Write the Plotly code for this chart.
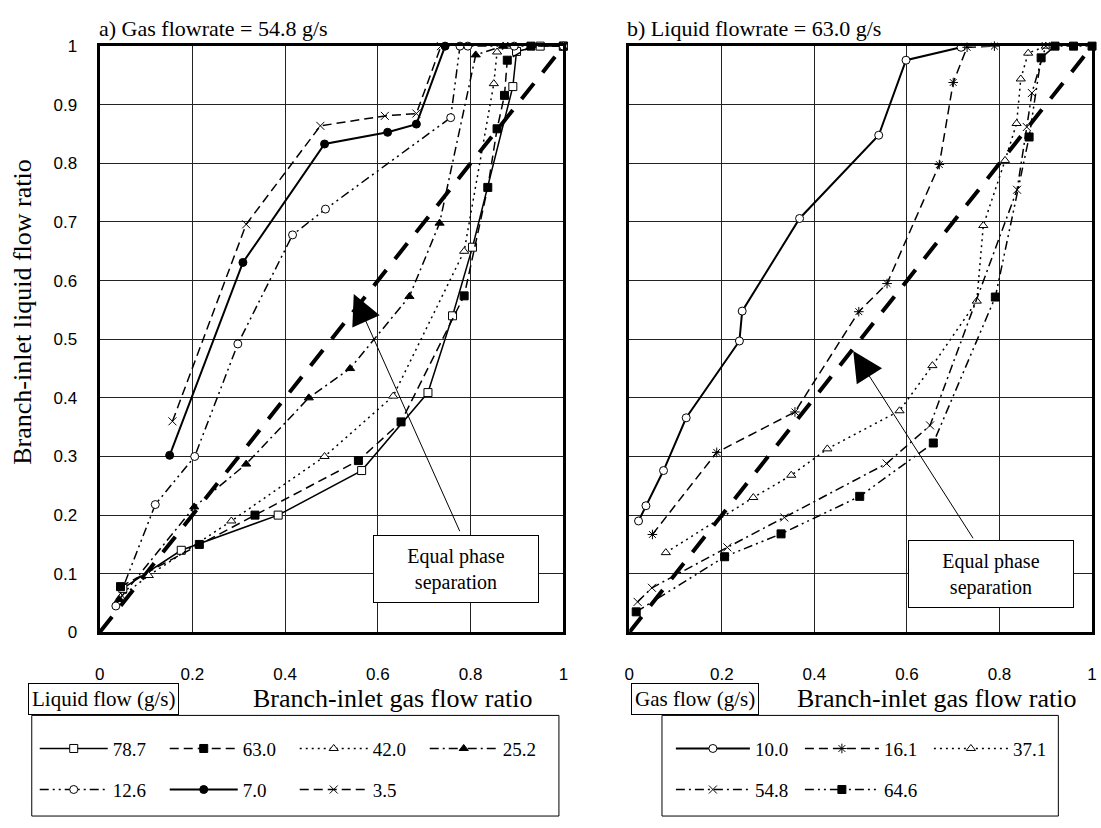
import plotly.graph_objects as go

W, H = 1101, 828

# ---------------- data: panel a) gas flowrate 54.8 g/s ----------------
a_names = ["78.7", "63.0", "42.0", "25.2", "12.6", "7.0", "3.5"]
a_x_787 = [0.05, 0.176, 0.385, 0.565, 0.708, 0.761, 0.804, 0.891, 0.899, 0.95, 1.0]
a_y_787 = [0.075, 0.14, 0.20, 0.276, 0.409, 0.54, 0.657, 0.931, 0.991, 1.0, 1.0]
a_x_630 = [0.045, 0.215, 0.335, 0.558, 0.65, 0.786, 0.837, 0.857, 0.873, 0.879, 0.93, 1.0]
a_y_630 = [0.078, 0.15, 0.20, 0.293, 0.359, 0.574, 0.759, 0.859, 0.916, 0.976, 1.0, 1.0]
a_x_420 = [0.045, 0.106, 0.284, 0.485, 0.633, 0.786, 0.85, 0.857, 0.88]
a_y_420 = [0.06, 0.097, 0.19, 0.30, 0.403, 0.65, 0.936, 0.99, 1.0]
a_x_252 = [0.042, 0.204, 0.316, 0.451, 0.54, 0.668, 0.733, 0.811, 0.87]
a_y_252 = [0.056, 0.214, 0.287, 0.40, 0.45, 0.573, 0.698, 0.985, 1.0]
a_x_126 = [0.035, 0.12, 0.205, 0.298, 0.416, 0.487, 0.757, 0.777, 0.794, 0.894, 1.0]
a_y_126 = [0.045, 0.218, 0.30, 0.492, 0.678, 0.722, 0.878, 1.0, 1.0, 1.0, 1.0]
a_x_070 = [0.151, 0.309, 0.485, 0.621, 0.683, 0.745]
a_y_070 = [0.302, 0.631, 0.833, 0.853, 0.867, 1.0]
a_x_035 = [0.157, 0.316, 0.476, 0.615, 0.683, 0.736]
a_y_035 = [0.36, 0.696, 0.864, 0.881, 0.885, 1.0]

# ---------------- data: panel b) liquid flowrate 63.0 g/s ----------------
b_names = ["10.0", "16.1", "37.1", "54.8", "64.6"]
b_x_100 = [0.02, 0.036, 0.074, 0.123, 0.238, 0.244, 0.368, 0.539, 0.598, 0.717]
b_y_100 = [0.19, 0.216, 0.276, 0.366, 0.497, 0.548, 0.706, 0.848, 0.976, 0.998]
b_x_161 = [0.05, 0.189, 0.358, 0.496, 0.557, 0.67, 0.70, 0.73, 0.789]
b_y_161 = [0.167, 0.307, 0.376, 0.547, 0.595, 0.798, 0.938, 0.998, 1.0]
b_x_371 = [0.079, 0.268, 0.35, 0.428, 0.584, 0.655, 0.751, 0.765, 0.812, 0.837, 0.846, 0.862, 0.90]
b_y_371 = [0.136, 0.23, 0.268, 0.313, 0.378, 0.455, 0.565, 0.694, 0.805, 0.868, 0.944, 0.988, 1.0]
b_x_548 = [0.018, 0.049, 0.212, 0.335, 0.556, 0.65, 0.838, 0.859, 0.87, 0.90]
b_y_548 = [0.052, 0.076, 0.145, 0.196, 0.288, 0.353, 0.755, 0.862, 0.92, 1.0]
b_x_646 = [0.015, 0.206, 0.328, 0.498, 0.657, 0.791, 0.864, 0.89, 0.92, 0.96, 1.0]
b_y_646 = [0.035, 0.129, 0.168, 0.232, 0.323, 0.572, 0.845, 0.98, 1.0, 1.0, 1.0]

eq_x = [0.0, 1.0]
eq_y = [0.0, 1.0]

x_ticks = [0, 0.2, 0.4, 0.6, 0.8, 1.0]
x_tick_text = ["0", "0.2", "0.4", "0.6", "0.8", "1"]
y_ticks = [0, 0.1, 0.2, 0.3, 0.4, 0.5, 0.6, 0.7, 0.8, 0.9, 1.0]
y_tick_text = ["0", "0.1", "0.2", "0.3", "0.4", "0.5", "0.6", "0.7", "0.8", "0.9", "1"]

# ---------------- helpers ----------------
def px(x):
    return x / W

def py(y):
    return 1 - y / H

SERIF = "Liberation Serif, Times New Roman, serif"
SANS = "Liberation Sans, Arial, sans-serif"

DASH = "9px,5px"
DOT = "2px,4px"
DASHDOT = "9px,4px,2px,4px"
DASHDOTDOT = "9px,4px,2px,4px,2px,4px"

fig = go.Figure()

def add(xs, ys, name, dash, width, symbol, fill, xa, ya, legend, msize=8):
    fig.add_trace(go.Scatter(
        x=xs, y=ys, name=name, mode="lines+markers",
        line=dict(color="black", width=width, dash=dash),
        marker=dict(symbol=symbol, size=msize, color=fill,
                    line=dict(color="black", width=1)),
        xaxis=xa, yaxis=ya, legend=legend, cliponaxis=False,
    ))

# equal phase separation lines
for xa, ya in (("x", "y"), ("x2", "y2")):
    fig.add_trace(go.Scatter(
        x=eq_x, y=eq_y, mode="lines", showlegend=False,
        line=dict(color="black", width=4, dash="20px,14px"),
        xaxis=xa, yaxis=ya, hoverinfo="skip",
    ))

# panel a
add(a_x_787, a_y_787, a_names[0], "solid", 1.5, "square", "white", "x", "y", "legend")
add(a_x_630, a_y_630, a_names[1], DASH, 1.5, "square", "black", "x", "y", "legend")
add(a_x_420, a_y_420, a_names[2], DOT, 1.5, "triangle-up", "white", "x", "y", "legend")
add(a_x_252, a_y_252, a_names[3], DASHDOT, 1.5, "triangle-up", "black", "x", "y", "legend")
add(a_x_126, a_y_126, a_names[4], DASHDOTDOT, 1.5, "circle", "white", "x", "y", "legend2")
add(a_x_070, a_y_070, a_names[5], "solid", 2, "circle", "black", "x", "y", "legend2")
add(a_x_035, a_y_035, a_names[6], DASH, 1.5, "x-thin-open", "black", "x", "y", "legend2")

# panel b
add(b_x_100, b_y_100, b_names[0], "solid", 2, "circle", "white", "x2", "y2", "legend3")
add(b_x_161, b_y_161, b_names[1], DASH, 1.5, "asterisk-open", "black", "x2", "y2", "legend3")
add(b_x_371, b_y_371, b_names[2], DOT, 1.5, "triangle-up", "white", "x2", "y2", "legend3")
add(b_x_548, b_y_548, b_names[3], DASHDOT, 1.5, "x-thin-open", "black", "x2", "y2", "legend4")
add(b_x_646, b_y_646, b_names[4], DASHDOTDOT, 1.5, "square", "black", "x2", "y2", "legend4")

ydom = [py(638), py(38)]
axis_common = dict(range=[0, 1], showgrid=True, gridcolor="#222", gridwidth=1,
                   zeroline=False, showline=True, mirror=True, linewidth=3,
                   linecolor="black", ticks="", fixedrange=True)

fig.update_layout(
    width=W, height=H, margin=dict(l=0, r=0, t=0, b=0),
    paper_bgcolor="white", plot_bgcolor="white",
    xaxis=dict(domain=[px(95.5), px(563.5)], anchor="y", tickvals=x_ticks,
               ticktext=x_tick_text, tickfont=dict(family=SANS, size=17, color="black"),
               ticklabelstandoff=24, **axis_common),
    yaxis=dict(domain=ydom, anchor="x", tickvals=y_ticks, ticktext=y_tick_text,
               tickfont=dict(family=SANS, size=17, color="black"),
               ticklabelstandoff=16, **axis_common),
    xaxis2=dict(domain=[px(630), px(1097)], anchor="y2", tickvals=x_ticks,
                ticktext=x_tick_text, tickfont=dict(family=SANS, size=17, color="black"),
                ticklabelstandoff=24, **axis_common),
    yaxis2=dict(domain=ydom, anchor="x2", tickvals=y_ticks, showticklabels=False,
                **axis_common),
    showlegend=True,
)

leg_common = dict(orientation="h", font=dict(family=SERIF, size=19, color="black"),
                  bgcolor="rgba(0,0,0,0)", borderwidth=0,
                  xanchor="left", yanchor="middle", itemclick=False, itemdoubleclick=False)
fig.update_layout(
    legend=dict(x=px(30), y=py(757), itemwidth=68, entrywidth=47, **leg_common),
    legend2=dict(x=px(30), y=py(799), itemwidth=68, entrywidth=47, **leg_common),
    legend3=dict(x=px(672), y=py(757), itemwidth=74, entrywidth=40, **leg_common),
    legend4=dict(x=px(672), y=py(799), itemwidth=74, entrywidth=40, **leg_common),
)

shapes = [
    dict(type="rect", xref="paper", yref="paper", x0=px(27), x1=px(559), y0=py(826), y1=py(723),
         line=dict(color="black", width=1)),
    dict(type="rect", xref="paper", yref="paper", x0=px(663), x1=px(1063), y0=py(826), y1=py(723),
         line=dict(color="black", width=1)),
]
fig.update_layout(shapes=shapes)

ann = []
ann.append(dict(text="a) Gas flowrate = 54.8 g/s", x=px(93), y=py(20), xref="paper", yref="paper",
                xanchor="left", yanchor="middle", showarrow=False,
                font=dict(family=SERIF, size=22, color="black")))
ann.append(dict(text="b) Liquid flowrate = 63.0 g/s", x=px(626), y=py(20), xref="paper", yref="paper",
                xanchor="left", yanchor="middle", showarrow=False,
                font=dict(family=SERIF, size=22, color="black")))
ann.append(dict(text="Branch-inlet liquid flow ratio", x=px(18), y=py(310), xref="paper", yref="paper",
                textangle=-90, xanchor="center", yanchor="middle", showarrow=False,
                font=dict(family=SERIF, size=26, color="black")))
for cx in (391, 940):
    ann.append(dict(text="Branch-inlet gas flow ratio", x=px(cx), y=py(706), xref="paper", yref="paper",
                    xanchor="center", yanchor="middle", showarrow=False,
                    font=dict(family=SERIF, size=26, color="black")))
ann.append(dict(text="Liquid flow (g/s)", x=px(23), y=py(706), xref="paper", yref="paper",
                xanchor="left", yanchor="middle", showarrow=False, bordercolor="black",
                borderwidth=1, borderpad=3, font=dict(family=SERIF, size=21, color="black")))
ann.append(dict(text="Gas flow (g/s)", x=px(632), y=py(706), xref="paper", yref="paper",
                xanchor="left", yanchor="middle", showarrow=False, bordercolor="black",
                borderwidth=1, borderpad=3, font=dict(family=SERIF, size=21, color="black")))

# Equal phase separation boxes and arrows
for xa, ya, bx, by, hx, hy, tx, ty in (("x", "y", 0.768, 0.108, 0.548, 0.577, 0.778, 0.17),
                                        ("x2", "y2", 0.782, 0.10, 0.484, 0.48, 0.745, 0.158)):
    ann.append(dict(text="Equal phase<br>separation", x=bx, y=by, xref=xa, yref=ya,
                    showarrow=False, bordercolor="black", borderwidth=1, borderpad=3,
                    width=158, height=60, bgcolor="white",
                    font=dict(family=SERIF, size=20, color="black")))
    ann.append(dict(text="", x=hx, y=hy, xref=xa, yref=ya, ax=tx, ay=ty, axref=xa, ayref=ya,
                    showarrow=True, arrowhead=2, arrowsize=6, arrowwidth=1, arrowcolor="black"))
fig.update_layout(annotations=ann)

fig.write_html("out.html")
